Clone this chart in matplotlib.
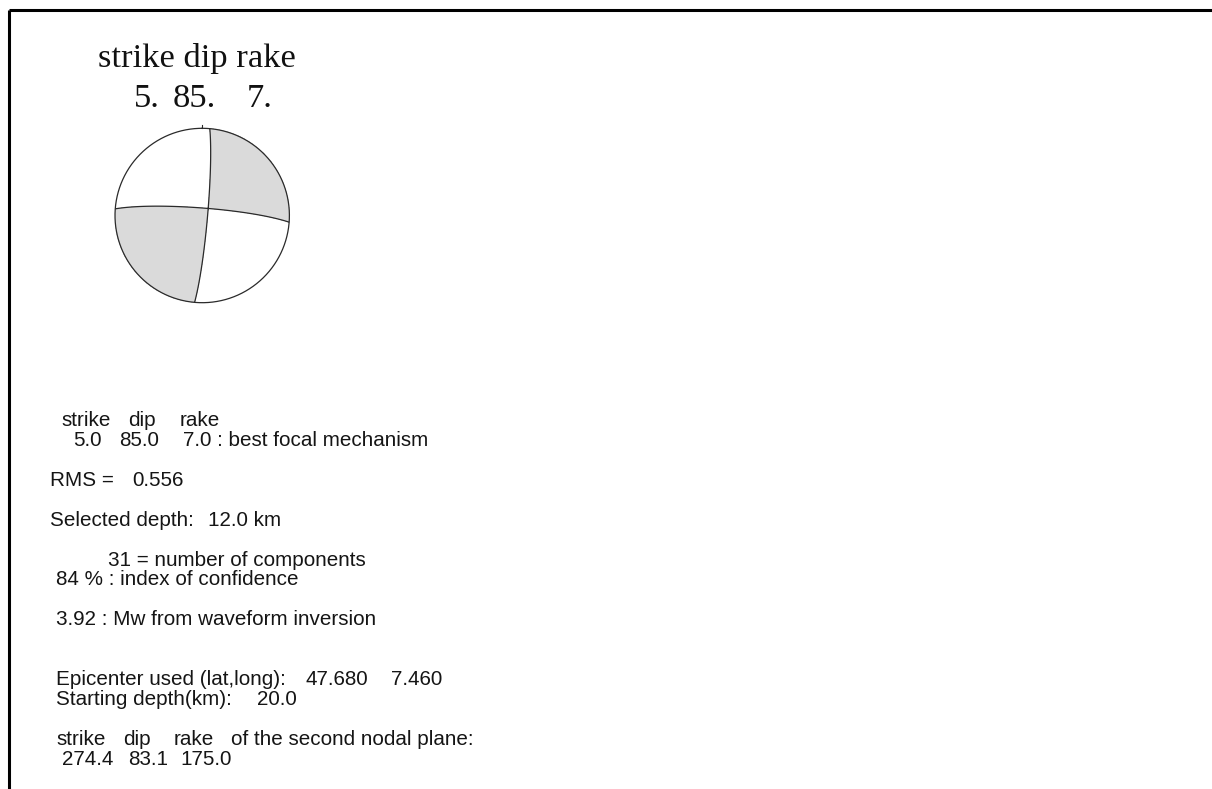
import numpy as np
import matplotlib
matplotlib.use("Agg")
import matplotlib.pyplot as plt

# --- solution values ---
best_sdr = [5.0, 85.0, 7.0]          # strike, dip, rake of best focal mechanism
second_sdr = [274.4, 83.1, 175.0]    # second nodal plane
rms = 0.556
selected_depth = 12.0
n_components = 31
confidence = 84
mw = 3.92
epicenter = [47.680, 7.460]
starting_depth = 20.0

W, H = 1212, 789
fig = plt.figure(figsize=(W / 100, H / 100), dpi=100)
ax = fig.add_axes([0, 0, 1, 1])
ax.set_xlim(0, W)
ax.set_ylim(H, 0)
ax.axis("off")

# frame (top + left only)
ax.plot([9, W], [10, 10], color="black", lw=2.2, solid_capstyle="butt")
ax.plot([9, 9], [10, H], color="black", lw=2.2, solid_capstyle="butt")

# --- beachball (lower hemisphere, equal area) ---
cx, cy, R = 202.2, 215.5, 87.2


def moment_tensor(strike, dip, rake):
    s, d, r = np.radians([strike, dip, rake])
    mxx = -(np.sin(d) * np.cos(r) * np.sin(2 * s) + np.sin(2 * d) * np.sin(r) * np.sin(s) ** 2)
    mxy = np.sin(d) * np.cos(r) * np.cos(2 * s) + 0.5 * np.sin(2 * d) * np.sin(r) * np.sin(2 * s)
    mxz = -(np.cos(d) * np.cos(r) * np.cos(s) + np.cos(2 * d) * np.sin(r) * np.sin(s))
    myy = np.sin(d) * np.cos(r) * np.sin(2 * s) - np.sin(2 * d) * np.sin(r) * np.cos(s) ** 2
    myz = -(np.cos(d) * np.cos(r) * np.sin(s) - np.cos(2 * d) * np.sin(r) * np.cos(s))
    mzz = np.sin(2 * d) * np.sin(r)
    return np.array([[mxx, mxy, mxz], [mxy, myy, myz], [mxz, myz, mzz]])


M = moment_tensor(*best_sdr)
rr, az = np.meshgrid(np.linspace(0, 1, 500), np.linspace(0, 2 * np.pi, 1801))
theta = 2 * np.arcsin(rr / np.sqrt(2))
n = np.stack([np.cos(az) * np.sin(theta), np.sin(az) * np.sin(theta), np.cos(theta)])
amp = np.einsum("i...,ij,j...->...", n, M, n)
px = cx + R * rr * np.sin(az)
py = cy - R * rr * np.cos(az)

ax.contourf(px, py, amp, levels=[0, amp.max() + 1], colors=["#dadada"])
ax.contour(px, py, amp, levels=[0], colors="#2a2a2a", linewidths=0.9)
t = np.linspace(0, 2 * np.pi, 500)
ax.plot(cx + R * np.sin(t), cy - R * np.cos(t), color="#2a2a2a", lw=0.9)
ax.plot([cx, cx], [cy - R, cy - R - 3], color="#2a2a2a", lw=0.8)

# --- title above ball ---
serif = dict(family="Liberation Serif", fontsize=24.8, color="#111111", va="baseline", ha="left")
ax.text(98.3, 66.7, "strike dip rake", **serif)
for xpos, val in zip([134.3, 172.3, 246.7], best_sdr):
    ax.text(xpos, 106.7, f"{val:.0f}.", **serif)

# --- text block ---
sans = dict(family="Liberation Sans", fontsize=14.9, color="#151515", va="baseline", ha="left")


def put(x, y, s):
    ax.text(x, y, s, **sans)


put(61.7, 426, "strike")
put(128.3, 426, "dip")
put(179.3, 426, "rake")
put(73.3, 445.7, f"{best_sdr[0]:.1f}")
put(119.3, 445.7, f"{best_sdr[1]:.1f}")
put(183.3, 445.7, f"{best_sdr[2]:.1f} : best focal mechanism")

put(50.5, 485.7, "RMS =")
put(132.3, 485.7, f"{rms:.3f}")

put(50.5, 525.5, "Selected depth:")
put(207.7, 525.5, f"{selected_depth:.1f} km")

put(107.7, 565.7, f"{n_components} = number of components")
put(55.7, 585, f"{confidence} % : index of confidence")

put(56, 625, f"{mw:.2f} : Mw from waveform inversion")

put(56, 685, "Epicenter used (lat,long):")
put(305, 685, f"{epicenter[0]:.3f}")
put(390.7, 685, f"{epicenter[1]:.3f}")
put(56, 705, "Starting depth(km):")
put(256.7, 705, f"{starting_depth:.1f}")

put(56, 745, "strike")
put(122.7, 745, "dip")
put(173.3, 745, "rake")
put(230.7, 745, "of the second nodal plane:")
put(61.7, 765, f"{second_sdr[0]:.1f}")
put(128.3, 765, f"{second_sdr[1]:.1f}")
put(180.7, 765, f"{second_sdr[2]:.1f}")

fig.savefig("out.png", dpi=100)
